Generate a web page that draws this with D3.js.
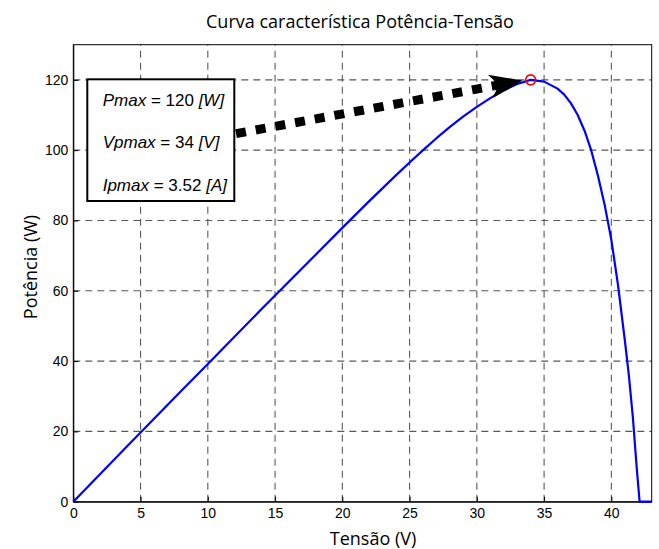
<!DOCTYPE html>
<html lang="pt">
<head>
<meta charset="UTF-8">
<title>Curva P-V</title>
<script src="https://d3js.org/d3.v7.min.js"></script>
<style>
  body { margin: 0; background: #fff; }
  svg { display: block; }
</style>
</head>
<body>
<script>
// dados
const tensao = [0, 2, 4, 6, 8, 10, 12, 14, 16, 18, 20, 22, 24, 25, 26, 27, 28, 29, 30, 31, 32, 33, 34,
                35, 36, 36.5, 37, 37.5, 38, 38.5, 39, 39.5, 40, 40.5, 41, 41.3, 41.6, 41.9, 42.1, 43];
const potencia = [0, 7.9, 15.8, 23.6, 31.4, 39.2, 47.0, 54.8, 62.5, 70.2, 77.9, 85.5, 92.9, 96.5, 100.0, 103.4, 106.6, 109.6, 112.3, 114.8, 117.0, 118.8, 120,
                  119.5, 117.5, 115.8, 113.3, 110.0, 105.6, 100.0, 92.8, 84.5, 74.5, 61.5, 46, 36, 24, 9, 0, 0];
const ponto_max = [34, 120];
const xTicks = [0, 5, 10, 15, 20, 25, 30, 35, 40];
const yTicks = [0, 20, 40, 60, 80, 100, 120];
const caixa_linhas = [
  ["Pmax", " = 120 ", "[W]"],
  ["Vpmax", " = 34 ", "[V]"],
  ["Ipmax", " = 3.52 ", "[A]"]
];
const seta_inicio = [12.1, 104.7];
const seta_fim = [33.4, 119.8];

const W = 659, H = 549;
const pLeft = 73.3, pRight = 651.7, pTop = 44.7, pBottom = 501.7;

const svg = d3.select("body").append("svg")
  .attr("width", W).attr("height", H)
  .attr("viewBox", `0 0 ${W} ${H}`);

const x = d3.scaleLinear().domain([0, 43]).range([pLeft, pRight]);
const y = d3.scaleLinear().domain([0, 130]).range([pBottom, pTop]);

// grade
const grid = svg.append("g").attr("stroke", "#5a5a5a").attr("stroke-width", 1.1)
  .attr("stroke-dasharray", "7,5");
grid.selectAll(".gx").data(xTicks.slice(1)).enter().append("line")
  .attr("x1", d => x(d)).attr("x2", d => x(d))
  .attr("y1", pBottom).attr("y2", pTop);
grid.selectAll(".gy").data(yTicks.slice(1)).enter().append("line")
  .attr("y1", d => y(d)).attr("y2", d => y(d))
  .attr("x1", pLeft).attr("x2", pRight);

// eixos
const xAxis = d3.axisBottom(x).tickValues(xTicks).tickSizeInner(-5).tickSizeOuter(0).tickPadding(6);
const yAxis = d3.axisLeft(y).tickValues(yTicks).tickSizeInner(-5).tickSizeOuter(0).tickPadding(5);

svg.append("g").attr("transform", `translate(0,${pBottom})`).call(xAxis)
  .call(g => g.selectAll("text").attr("font-size", 14));
svg.append("g").attr("transform", `translate(${pLeft},0)`).call(yAxis)
  .call(g => g.selectAll("text").attr("font-size", 14));
svg.selectAll(".tick text").attr("font-family", "'Liberation Sans', Arial, sans-serif").attr("fill", "#000");
svg.selectAll(".domain").attr("stroke", "#000");

svg.append("rect")
  .attr("x", pLeft).attr("y", pTop)
  .attr("width", pRight - pLeft).attr("height", pBottom - pTop)
  .attr("fill", "none").attr("stroke", "#000").attr("stroke-width", 1);

// curva
const pts = tensao.map((v, i) => [v, potencia[i]]);
const line = d3.line().x(d => x(d[0])).y(d => y(d[1]));
svg.append("path").datum(pts)
  .attr("d", line)
  .attr("fill", "none").attr("stroke", "#0000ff").attr("stroke-width", 2.2)
  .attr("stroke-linejoin", "round");

svg.append("circle")
  .attr("cx", x(ponto_max[0])).attr("cy", y(ponto_max[1]))
  .attr("r", 5).attr("fill", "none").attr("stroke", "#ff0000").attr("stroke-width", 1.6);

// seta
const x0 = x(seta_inicio[0]), y0 = y(seta_inicio[1]);
const x1 = x(seta_fim[0]), y1 = y(seta_fim[1]);
const ang = Math.atan2(y1 - y0, x1 - x0);
const len = Math.hypot(x1 - x0, y1 - y0);
const seta = svg.append("g").attr("transform", `translate(${x0},${y0}) rotate(${ang * 180 / Math.PI})`);
seta.append("line")
  .attr("x1", 0).attr("y1", 0).attr("x2", len - 24).attr("y2", 0)
  .attr("stroke", "#000").attr("stroke-width", 9).attr("stroke-dasharray", "10,10");
seta.append("path")
  .attr("d", `M${len},0 L${len - 33},-12 L${len - 24},0 L${len - 33},12 Z`)
  .attr("fill", "#000");

// caixa de texto
const box = svg.append("g");
box.append("rect")
  .attr("x", 87.3).attr("y", 79.3).attr("width", 147).attr("height", 121.7)
  .attr("fill", "#fff").attr("stroke", "#000").attr("stroke-width", 2);
const baselines = [106, 148, 191];
caixa_linhas.forEach((l, i) => {
  const t = box.append("text")
    .attr("x", 102.7).attr("y", baselines[i])
    .attr("font-family", "'Liberation Sans', Arial, sans-serif")
    .attr("font-size", 17).attr("fill", "#000");
  t.append("tspan").attr("font-style", "italic").text(l[0]);
  t.append("tspan").text(l[1]);
  t.append("tspan").attr("font-style", "italic").text(l[2]);
});

// titulos
const fonteTitulo = "'Open Sans', sans-serif";
svg.append("text")
  .attr("x", 360).attr("y", 28).attr("text-anchor", "middle")
  .attr("font-family", fonteTitulo).attr("font-size", 18).attr("fill", "#000")
  .text("Curva característica Potência-Tensão");
svg.append("text")
  .attr("x", 373).attr("y", 545).attr("text-anchor", "middle")
  .attr("font-family", fonteTitulo).attr("font-size", 18).attr("fill", "#000")
  .text("Tensão (V)");
svg.append("text")
  .attr("transform", "translate(37,267) rotate(-90)").attr("text-anchor", "middle")
  .attr("font-family", fonteTitulo).attr("font-size", 18).attr("fill", "#000")
  .text("Potência (W)");
</script>
</body>
</html>
